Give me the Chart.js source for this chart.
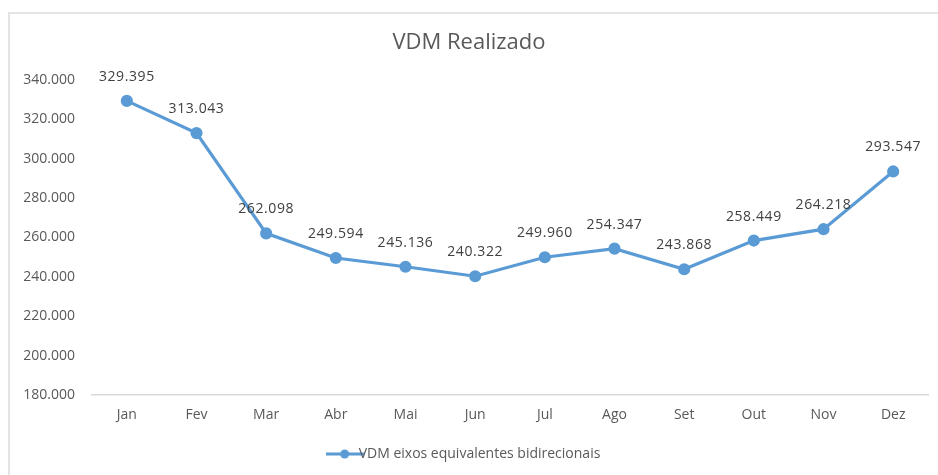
<!DOCTYPE html>
<html lang="pt-BR">
<head>
<meta charset="utf-8">
<title>VDM Realizado</title>
<script src="https://cdn.jsdelivr.net/npm/chart.js@4/dist/chart.umd.min.js"></script>
<style>
  html, body { margin: 0; padding: 0; background: #fff; overflow: hidden; }
  .frame { position: absolute; left: 8px; top: 12px; width: 960px; height: 480px; border-top: 2px solid #e4e4e4; border-left: 2px solid #e4e4e4; }
  .wrap { position: absolute; left: 10px; top: 14px; width: 938px; height: 461px; }
</style>
</head>
<body>
<div class="frame"></div>
<div class="wrap"><canvas id="vdm-chart"></canvas></div>
<script>
const months = ['Jan', 'Fev', 'Mar', 'Abr', 'Mai', 'Jun', 'Jul', 'Ago', 'Set', 'Out', 'Nov', 'Dez'];
const vdm = [329395, 313043, 262098, 249594, 245136, 240322, 249960, 254347, 243868, 258449, 264218, 293547];
const seriesName = 'VDM eixos equivalentes bidirecionais';
const chartTitle = 'VDM Realizado';

const BLUE = '#5b9bd5';
const FONT = "'Open Sans', 'DejaVu Sans', sans-serif";

// pt-BR style thousands: 329395 -> 329.395
function fmt(n) {
  return String(Math.round(n)).replace(/\B(?=(\d{3})+(?!\d))/g, '.');
}

// little line + dot swatch for the legend, like the spreadsheet one
function legendSwatch() {
  const c = document.createElement('canvas');
  c.width = 38; c.height = 12;
  const g = c.getContext('2d');
  g.strokeStyle = BLUE; g.lineWidth = 3;
  g.beginPath(); g.moveTo(0, 6); g.lineTo(38, 6); g.stroke();
  g.fillStyle = BLUE;
  g.beginPath(); g.arc(19, 6, 4.5, 0, Math.PI * 2); g.fill();
  return c;
}

const valueLabels = {
  id: 'valueLabels',
  afterDatasetsDraw(chart) {
    const ctx = chart.ctx;
    const meta = chart.getDatasetMeta(0);
    ctx.save();
    ctx.font = `14px ${FONT}`;
    if ('letterSpacing' in ctx) ctx.letterSpacing = '0.6px';
    ctx.fillStyle = '#404040';
    ctx.textAlign = 'center';
    ctx.textBaseline = 'middle';
    meta.data.forEach((pt, i) => {
      ctx.fillText(fmt(chart.data.datasets[0].data[i]), pt.x, pt.y - 24);
    });
    ctx.restore();
  },
};

function render() {
  const ctx = document.getElementById('vdm-chart').getContext('2d');
  const swatch = legendSwatch();
  new Chart(ctx, {
    type: 'line',
    data: {
      labels: months,
      datasets: [{
        label: seriesName,
        data: vdm,
        borderColor: BLUE,
        backgroundColor: BLUE,
        borderWidth: 3.2,
        pointRadius: 4.5,
        pointBackgroundColor: BLUE,
        pointBorderColor: BLUE,
        tension: 0,
      }],
    },
    options: {
      responsive: true,
      maintainAspectRatio: false,
      animation: false,
      layout: { padding: { left: 0, right: 20, top: 0, bottom: 4 } },
      plugins: {
        title: {
          display: true,
          text: chartTitle,
          color: '#595959',
          font: { family: FONT, size: 22, weight: 'normal', lineHeight: 1.2 },
          padding: { top: 16, bottom: 23.6 },
        },
        legend: {
          position: 'bottom',
          labels: {
            color: '#595959',
            font: { family: FONT, size: 14 },
            usePointStyle: true,
            padding: 12,
            generateLabels: () => [{
              text: seriesName,
              fontColor: '#595959',
              pointStyle: swatch,
              datasetIndex: 0,
              hidden: false,
              lineWidth: 0,
            }],
          },
        },
        tooltip: { enabled: false },
      },
      scales: {
        x: {
          offset: true,
          grid: { display: false, drawTicks: false },
          border: { display: true, color: '#d9d9d9', width: 1.5 },
          ticks: { color: '#595959', font: { family: FONT, size: 14 }, padding: 12 },
          afterFit: (s) => { s.height = 40; },
        },
        y: {
          min: 180000,
          max: 340000,
          grid: { display: false, drawTicks: false },
          border: { display: false },
          ticks: {
            stepSize: 20000,
            color: '#595959',
            font: { family: FONT, size: 14 },
            padding: 17,
            callback: (v) => fmt(v),
          },
          afterFit: (s) => { s.width = 82; },
        },
      },
    },
    plugins: [valueLabels],
  });
}

document.addEventListener('DOMContentLoaded', render);
</script>
</body>
</html>
